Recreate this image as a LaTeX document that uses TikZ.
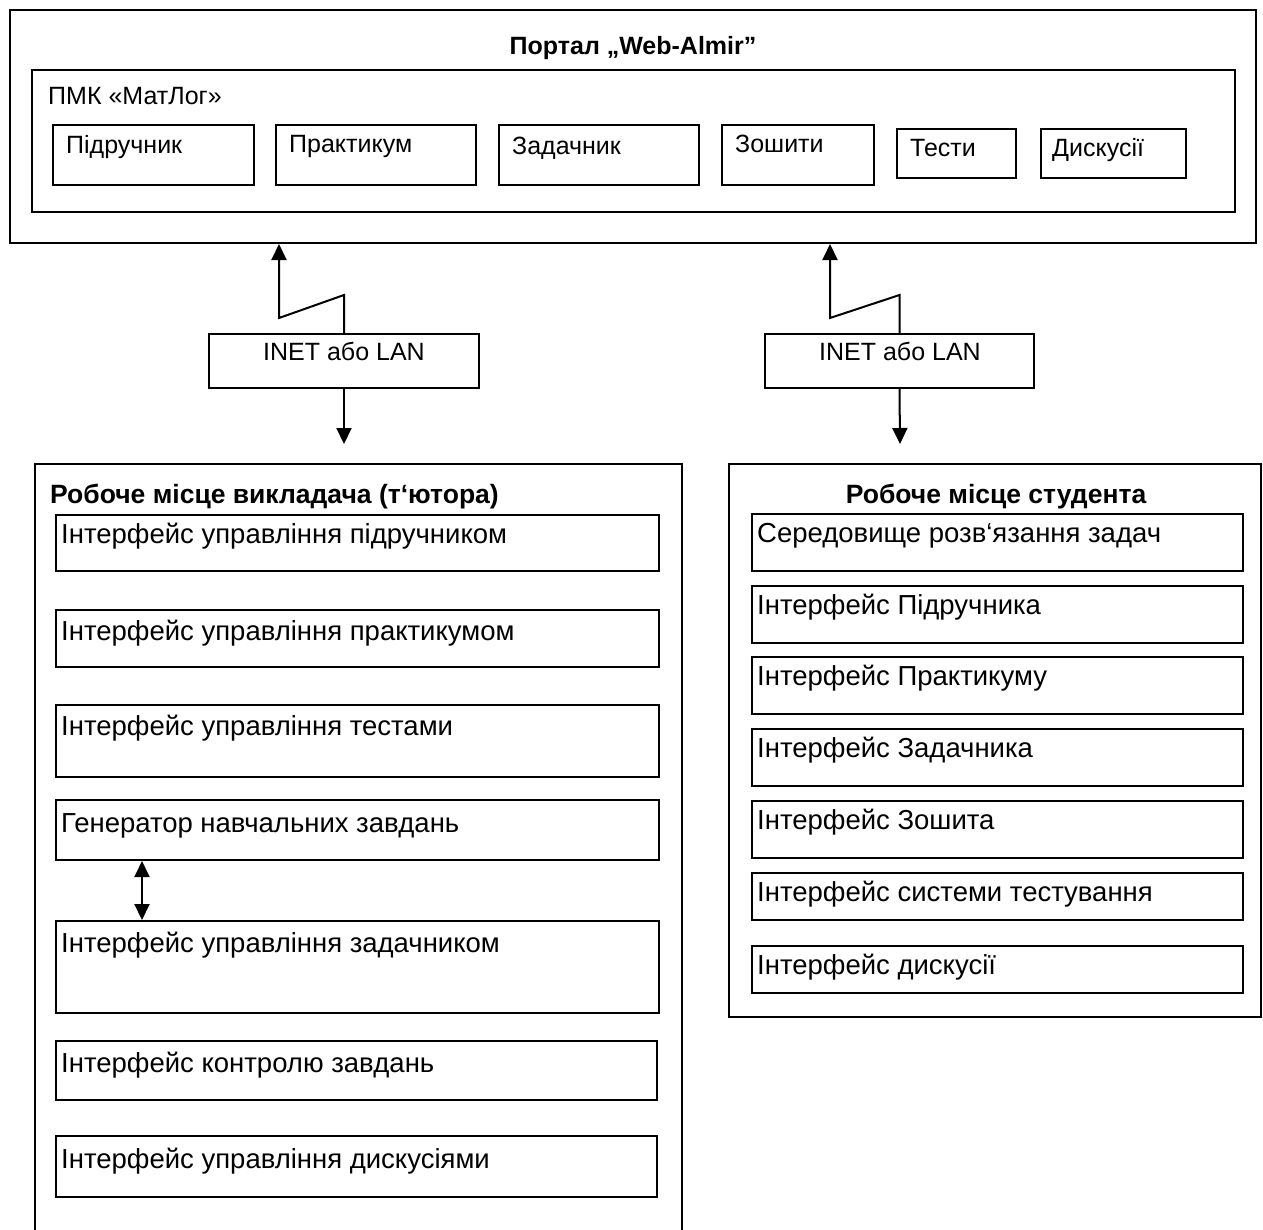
\documentclass[tikz,border=0pt]{standalone}
\usepackage{fontspec}
\setmainfont{Liberation Sans}
\usetikzlibrary{fit,arrows.meta,calc}
\tikzset{
  box/.style={draw, line width=2pt, inner sep=0pt},
  txt/.style={inner sep=0pt, font=\fontsize{25}{30}\selectfont},
  ltxt/.style={inner sep=0pt, font=\fontsize{27.5}{32}\selectfont},
  btxt/.style={inner sep=0pt, font=\bfseries\fontsize{25}{30}\selectfont},
  bltxt/.style={inner sep=0pt, font=\bfseries\fontsize{26.5}{31}\selectfont},
  arr/.style={line width=2pt, -{Triangle[width=15pt,length=16pt]}},
  arrtwo/.style={line width=2pt, {Triangle[width=15pt,length=16pt]}-{Triangle[width=15pt,length=16pt]}},
}
% #1 name, #2 x1, #3 y1, #4 x2, #5 y2
\newcommand\mkbox[5]{\node[box, fit={(#2,#3) (#4,#5)}] (#1) {};}
\begin{document}
\begin{tikzpicture}[x=1pt,y=-1pt]
\useasboundingbox (0,0) rectangle (1263,1229);
\fill[white] (0,0) rectangle (1263,1229);
% portal
\mkbox{portal}{10}{10}{1256}{243}
\node[btxt, anchor=base] (portalt) at (633,54) {Портал „Web-Almir”};
\mkbox{pmk}{32}{70}{1235}{212}
\node[txt, anchor=base west] (pmkt) at (48,104) {ПМК «МатЛог»};
\mkbox{b1}{53}{125}{254}{185}
\node[txt, anchor=base west] (b1t) at (66,153) {Підручник};
\mkbox{b2}{276}{125}{476}{185}
\node[txt, anchor=base west] (b2t) at (289,152) {Практикум};
\mkbox{b3}{499}{125}{699}{185}
\node[txt, anchor=base west] (b3t) at (512,154) {Задачник};
\mkbox{b4}{722}{125}{874}{185}
\node[txt, anchor=base west] (b4t) at (735,152) {Зошити};
\mkbox{b5}{897}{129}{1016}{178}
\node[txt, anchor=base west] (b5t) at (910,156) {Тести};
\mkbox{b6}{1041}{129}{1186}{178}
\node[txt, anchor=base west] (b6t) at (1052,156) {Дискусії};
% network boxes
\mkbox{inet1}{209}{334}{479}{388}
\node[txt, anchor=base] (inet1t) at (344,360) {INET або LAN};
\mkbox{inet2}{765}{334}{1034}{388}
\node[txt, anchor=base] (inet2t) at (900,360) {INET або LAN};
\coordinate (z1) at (279,318);
\coordinate (z2) at (830,318);
\draw[arr] (inet1.north) -- ++(0,-38) -- (z1) -- (z1 |- portal.south);
\draw[arr] (inet2.north) -- ++(0,-38) -- (z2) -- (z2 |- portal.south);
\coordinate (d1) at (344,444);
\coordinate (d2) at (900,444);
\draw[arr] (inet1.south) -- (d1);
\draw[arr] (inet2.south) -- (d2);
% teacher workplace
\mkbox{teach}{35}{464}{682}{1250}
\node[bltxt, anchor=base west] (teacht) at (50,503) {Робоче місце викладача (т‘ютора)};
\mkbox{l1}{56}{515}{659}{571}
\node[ltxt, anchor=base west] (l1t) at (61,543) {Інтерфейс управління підручником};
\mkbox{l2}{56}{610}{659}{667}
\node[ltxt, anchor=base west] (l2t) at (61,640) {Інтерфейс управління практикумом};
\mkbox{l3}{56}{705}{659}{777}
\node[ltxt, anchor=base west] (l3t) at (61,735) {Інтерфейс управління тестами};
\mkbox{l4}{56}{800}{659}{860}
\node[ltxt, anchor=base west] (l4t) at (61,832) {Генератор навчальних завдань};
\mkbox{l5}{56}{921}{659}{1013}
\node[ltxt, anchor=base west] (l5t) at (61,952) {Інтерфейс управління задачником};
\mkbox{l6}{56}{1041}{657}{1100}
\node[ltxt, anchor=base west] (l6t) at (61,1072) {Інтерфейс контролю завдань};
\mkbox{l7}{56}{1136}{657}{1197}
\node[ltxt, anchor=base west] (l7t) at (61,1168) {Інтерфейс управління дискусіями};
\coordinate (dx) at (142,0);
\draw[arrtwo] (l4.south -| dx) -- (l5.north -| dx);
% student workplace
\mkbox{stud}{729}{464}{1261}{1017}
\node[bltxt, anchor=base] (studt) at (996,503) {Робоче місце студента};
\mkbox{r1}{752}{514}{1243}{571}
\node[ltxt, anchor=base west] (r1t) at (757,542) {Середовище розв‘язання задач};
\mkbox{r2}{752}{586}{1243}{643}
\node[ltxt, anchor=base west] (r2t) at (757,614) {Інтерфейс Підручника};
\mkbox{r3}{752}{657}{1243}{714}
\node[ltxt, anchor=base west] (r3t) at (757,685) {Інтерфейс Практикуму};
\mkbox{r4}{752}{729}{1243}{786}
\node[ltxt, anchor=base west] (r4t) at (757,757) {Інтерфейс Задачника};
\mkbox{r5}{752}{801}{1243}{858}
\node[ltxt, anchor=base west] (r5t) at (757,829) {Інтерфейс Зошита};
\mkbox{r6}{752}{873}{1243}{920}
\node[ltxt, anchor=base west] (r6t) at (757,901) {Інтерфейс системи тестування};
\mkbox{r7}{752}{946}{1243}{993}
\node[ltxt, anchor=base west] (r7t) at (757,974) {Інтерфейс дискусії};
\end{tikzpicture}
\end{document}
